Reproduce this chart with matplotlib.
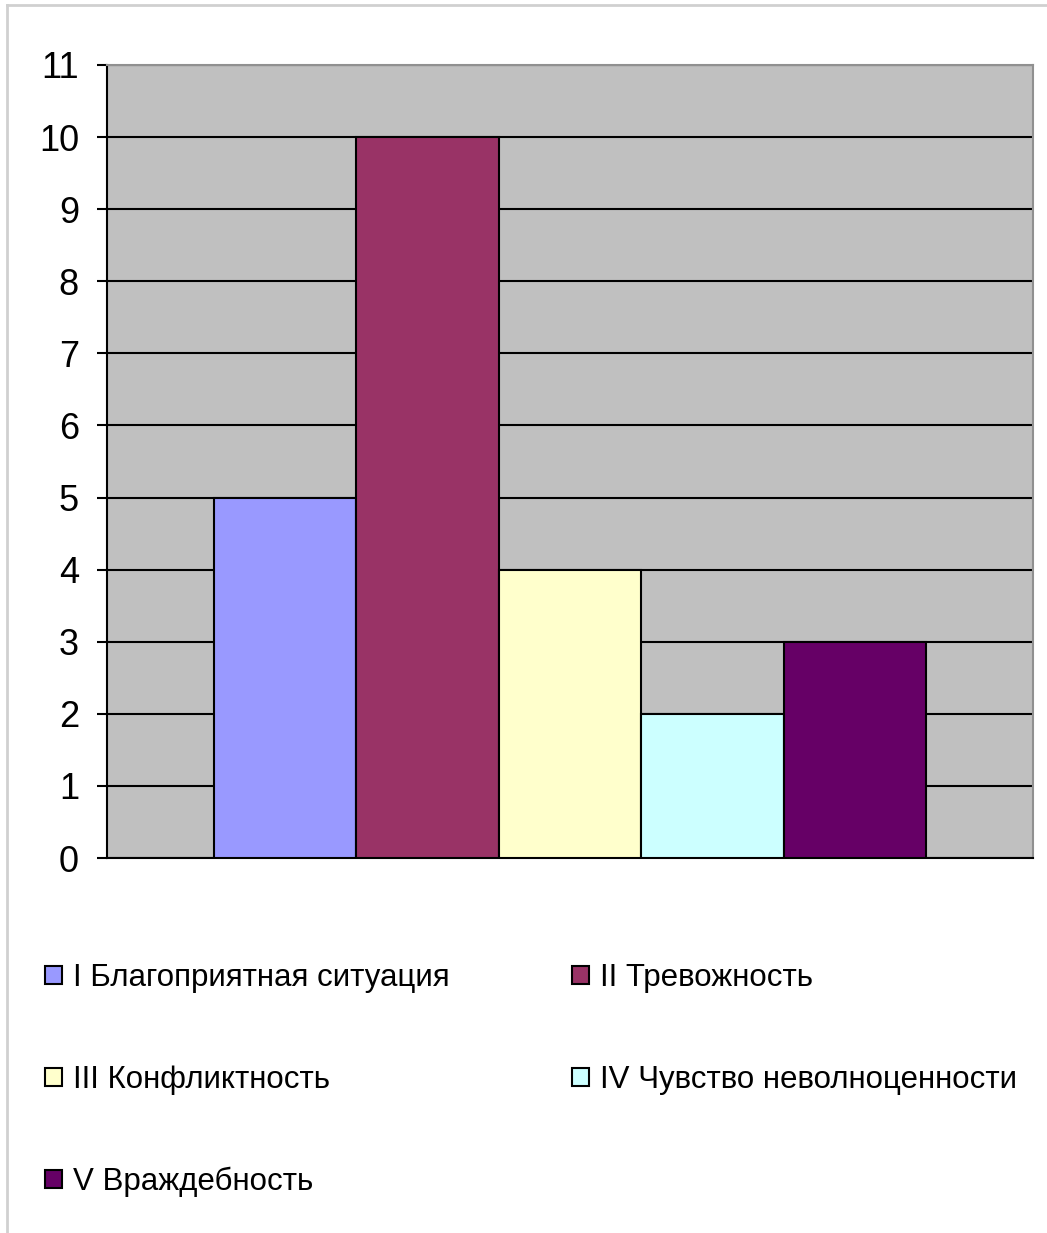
import numpy as np
import matplotlib.pyplot as plt
from matplotlib.lines import Line2D

plt.rcParams['font.family'] = ['Liberation Sans', 'DejaVu Sans']

labels = ['I Благоприятная ситуация', 'II Тревожность', 'III Конфликтность',
          'IV Чувство неволноценности', 'V Враждебность']
values = [5, 10, 4, 2, 3]
colors = ['#9999FF', '#993366', '#FFFFCC', '#CCFFFF', '#660066']
yticks = list(range(0, 12))

fig = plt.figure(figsize=(10.47, 12.33), dpi=100)
ax = fig.add_axes([107/1047, 1 - 858/1233, 926/1047, 793/1233])

# Excel-style gap width 150%: one category, five series
n = len(values)
w = 1.0 / (n + 1.5)
x0 = 0.75 * w
bars = []
for i, (v, c, lab) in enumerate(zip(values, colors, labels)):
    b = ax.bar(x0 + i * w, v, width=w, align='edge', color=c,
               edgecolor='black', linewidth=1.5, label=lab, zorder=3)
    bars.append(b)

ax.set_xlim(0, 1)
ax.set_ylim(0, 11)
ax.set_facecolor('#C0C0C0')
ax.set_yticks(yticks)
ax.set_xticks([])
ax.yaxis.grid(True, color='black', linewidth=1.5, zorder=1)
ax.set_axisbelow(True)
ax.tick_params(axis='y', length=7.2, width=1.5, labelsize=26, pad=13)
for s in ['top', 'right']:
    ax.spines[s].set_color('#909090')
    ax.spines[s].set_linewidth(1.5)
for s in ['left', 'bottom']:
    ax.spines[s].set_color('black')
    ax.spines[s].set_linewidth(1.5)

# legend laid out in two columns, rows I/II, III/IV, V
kw = dict(frameon=False, fontsize=22.5, handlelength=0.54, handleheight=0.54,
          handletextpad=0.35, labelspacing=2.3, borderaxespad=0, borderpad=0)
leg1 = fig.legend([bars[0], bars[2], bars[4]], [labels[0], labels[2], labels[4]],
                  loc='upper left', bbox_to_anchor=(45/1047, 1 - 963/1233), **kw)
leg2 = fig.legend([bars[1], bars[3]], [labels[1], labels[3]],
                  loc='upper left', bbox_to_anchor=(572/1047, 1 - 963/1233), **kw)

# outer chart border
fig.add_artist(Line2D([7/1047, 7/1047], [0, 1 - 5/1233], transform=fig.transFigure,
                      color='#D0D0D0', linewidth=2))
fig.add_artist(Line2D([7/1047, 1], [1 - 5/1233, 1 - 5/1233], transform=fig.transFigure,
                      color='#D0D0D0', linewidth=2))

fig.savefig('out.png', dpi=100)
